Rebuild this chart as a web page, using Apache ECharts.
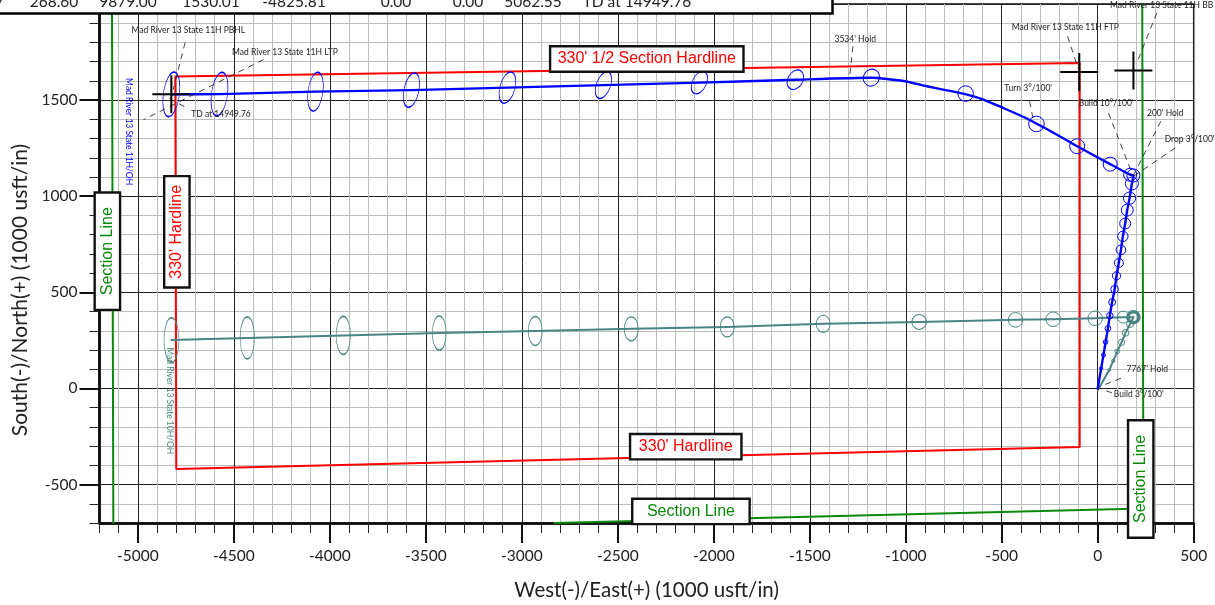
<!DOCTYPE html>
<html><head><meta charset="utf-8">
<style>html,body{margin:0;padding:0;background:#fff}#c{width:1215px;height:605px}</style>
<script src="https://cdn.jsdelivr.net/npm/echarts@6/dist/echarts.min.js"></script>
</head><body><div id="c"></div>
<script>
const xTicks=[-5000,-4500,-4000,-3500,-3000,-2500,-2000,-1500,-1000,-500,0,500];
const yTicks=[-500,0,500,1000,1500];
const xTitle='West(-)/East(+) (1000 usft/in)';
const yTitle='South(-)/North(+) (1000 usft/in)';

const tableCells=['7','268.60','9879.00','1530.01','-4825.81','0.00','0.00','5062.55','TD at 14949.76'];

const bluePath=[[0,0],[18,105],[30,174],[41,242],[53,312],[63,379],[75,449],[88,516],[98,586],[110,653],[121,721],[131,791],[143,858],[154,928],[166,990],[178,1066],[186,1108],[169,1112],[65,1167],[-107,1260],[-212,1320],[-325,1381],[-386,1412],[-492,1459],[-595,1503],[-685,1530],[-785,1551],[-890,1572],[-1003,1598],[-1098,1610],[-1176,1616],[-1575,1606],[-2075,1591],[-2575,1578],[-3075,1565],[-3575,1552],[-4075,1544],[-4575,1531],[-4825.81,1530.01]];
const blueStations=[[18,105],[30,174],[41,242],[53,312],[63,379],[75,449],[88,516],[98,586],[110,653],[121,721],[131,791],[143,858],[154,928],[166,990],[178,1066],[169,1112],[186,1108],[65,1167],[-107,1260],[-319,1376],[-688,1534],[-1179,1617],[-1575,1606],[-2075,1591],[-2575,1578],[-3075,1565],[-3575,1552],[-4075,1544],[-4575,1531],[-4825.81,1530.01]];
const blueMinor=[17,21,24,30,33,36,40,43,47,50,54,57,62,64,68,68,68,73,78,81,81,83,78,73,73,78,78,78,83,83];
const blueMajor=[17,21,24,30,33,36,40,43,47,50,54,57,62,64,68,68,68,73,78,81,81,90,109,125,146,167,182,203,229,234];
const blueTilt=[0,0,0,0,0,0,0,0,0,0,0,0,0,0,0,0,0,0,0,0,0,30,30,25,20,15,12,8,8,8];

const tealBuild=[[0,-10],[60,96],[81,143],[102,192],[124,240],[145,289],[169,336],[186,371]];
const tealLateral=[[186,371],[133,371],[-13,365],[-232,360],[-428,357],[-930,346],[-1430,336],[-1930,320],[-2430,310],[-2930,299],[-3430,288],[-3930,276],[-4430,263],[-4825,252]];
const tealStations=[[60,96],[81,143],[102,192],[124,240],[145,289],[169,336],[133,371],[-13,365],[-232,360],[-428,357],[-930,346],[-1430,336],[-1930,320],[-2430,310],[-2930,299],[-3430,288],[-3930,276],[-4430,263],[-4825,252]];
const tealMinor=[14,17,24,33,35,38,62,76,76,76,76,73,73,73,73,73,75,75,78];
const tealMajor=[14,17,24,33,35,38,62,76,76,76,78,89,104,125,151,177,198,219,234];
const tealEndRing=[[186,371]];

const hardline=[[-4805,1623],[-94,1693],[-94,-305],[-4800,-419],[-4805,1623]];
const sectionWest=[[-5135,2000],[-5128,-700]];
const sectionEast=[[232,2000],[238,-625],[-2830,-700]];
const targets=[[-4825.81,1530.01],[-96,1646],[186,1654]];

const leaders=[[[-4754,1799],[-4816,1555]],[[-4346,1711],[-4971,1398]],[[-4758,1466],[-4862,1523]],[[-1275,1780],[-1293,1616]],[[-157,1832],[-100,1659]],[[308,1954],[204,1694]],[[-355,1494],[-334,1390]],[[56,1433],[178,1121]],[[329,1390],[183,1103]],[[404,1251],[186,1103]],[[121,53],[9,9]],[[74,-23],[3,3]]];
const noteTexts=['Mad River 13 State 11H PBHL','Mad River 13 State 11H LTP','TD at 14949.76',"3534' Hold",'Mad River 13 State 11H FTP','Mad River 13 State 11H BB',"Turn 3\u00b0/100'","Build 10\u00b0/100'","200' Hold","Drop 3\u00b0/100'","7767' Hold","Build 3\u00b0/100'"];
const notePoints=[[-4737,1864],[-4234,1749],[-4567,1424],[-1263,1815],[-169,1877],[333,1992],[-362,1560],[44,1483],[352,1431],[479,1298],[258,100],[214,-32]];
const wellNames=['Mad River 13 State 11H/OH','Mad River 13 State 10H/OH'];
const wellNamePoints=[[-5048,1336],[-4834,-64]];

const boxTexts=["330' 1/2 Section Hardline","330' Hardline",'Section Line',"330' Hardline",'Section Line','Section Line'];
const boxPoints=[[-2349,1714],[-2146,-303],[-2119,-640],[-4797,815],[-5159,714],[224,-471]];

const FONT='Lato';
const BLUE='#0000ff',TEAL='#4a8484',RED='#ff0000',GREEN='#0a8a0a',INK='#1a1a1a';
const PX_PER_USFT=0.192;
const X0=-5200,X1=500,Y0=-700,Y1=2000;
const NOBORDER={textBorderWidth:0,textBorderColor:'transparent',textShadowBlur:0,opacity:1};

function ellipses(points,minor,major,tilt,color,name){
  return {type:'scatter',name,z:4,silent:true,symbol:'circle',
    data:points.map((p,i)=>({value:p,symbolSize:[minor[i]*PX_PER_USFT,major[i]*PX_PER_USFT],symbolRotate:-tilt[i]})),
    itemStyle:{color:'rgba(0,0,0,0)',borderColor:color,borderWidth:1,opacity:1}};
}
function path(data,color,w,name,extra){
  return Object.assign({type:'line',name,data,showSymbol:false,symbol:'none',silent:true,smooth:false,z:3,
    lineStyle:{color,width:w,cap:'round',join:'round'}},extra||{});
}
const series=[
  path(hardline,RED,2,'Hardline'),
  path(sectionWest,GREEN,2,'Section line west'),
  path(sectionEast,GREEN,2,'Section line east'),
  path(tealBuild,TEAL,2,'10H build'),
  path(tealLateral,TEAL,2,'10H lateral'),
  path(bluePath,BLUE,2.4,'11H',{smooth:0.2}),
  ellipses(tealStations,tealMinor,tealMajor,tealStations.map(()=>0),TEAL,'10H stations'),
  ellipses(blueStations,blueMinor,blueMajor,blueTilt,BLUE,'11H stations'),
  {type:'scatter',name:'10H end',z:5,silent:true,data:tealEndRing,symbolSize:11,
    itemStyle:{color:'rgba(0,0,0,0)',borderColor:TEAL,borderWidth:3.5,opacity:1}},
  {type:'scatter',name:'Targets',z:5,silent:true,data:targets,symbol:'path://M0 10H20M10 0V20',symbolSize:38,
    itemStyle:{color:'rgba(0,0,0,0)',borderColor:'#000',borderWidth:2,opacity:1}},
  ...leaders.map((l,i)=>path(l,'#111',0.8,'Leader '+i,{z:6,lineStyle:{color:'#111',width:0.8,type:[6,5]}})),
  {type:'scatter',name:'Notes',z:7,silent:true,symbolSize:1,itemStyle:{color:'rgba(0,0,0,0)',opacity:1},
    data:notePoints.map((p,i)=>({value:p,label:Object.assign({show:true,position:'inside',formatter:noteTexts[i],align:'center',verticalAlign:'middle',
      fontFamily:FONT,fontSize:8.5,color:'#222'},NOBORDER)}))},
  {type:'scatter',name:'Well names',z:7,silent:true,symbolSize:1,itemStyle:{color:'rgba(0,0,0,0)',opacity:1},
    data:wellNamePoints.map((p,i)=>({value:p,label:Object.assign({show:true,position:'inside',rotate:-90,formatter:wellNames[i],align:'center',verticalAlign:'middle',
      fontFamily:FONT,fontSize:8.5,color:i?TEAL:BLUE},NOBORDER)}))},
  {type:'scatter',name:'Boxes',z:10,silent:true,symbolSize:1,itemStyle:{color:'rgba(0,0,0,0)',opacity:1},
    data:boxPoints.map((p,i)=>{
      const vertical=i>=3, section=/Section Line/.test(boxTexts[i]);
      const long=i===0?191:(section?115:109);
      return {value:p,label:Object.assign({show:true,position:'inside',rotate:vertical?90:0,formatter:boxTexts[i],align:'center',verticalAlign:'middle',
        width:long,height:23,lineHeight:23,fontFamily:'Liberation Sans',fontSize:16,color:section?GREEN:RED,
        backgroundColor:'#fff',borderColor:'#111',borderWidth:2.4,padding:0,shadowBlur:0},NOBORDER)};
    })}
];
const labelStyle={fontFamily:FONT,fontSize:15.5,color:'#222'};
const grid={left:99.5,top:4,width:1094.2,height:519,show:true,backgroundColor:'#fff',borderColor:'#111',borderWidth:1.5,containLabel:false,outerBoundsMode:'none'};
function minorAxis(min,max,pos){
  return {type:'value',min,max,interval:100,position:pos,silent:true,
    axisLine:{show:true,onZero:false,lineStyle:{color:'#111',width:2.5}},
    axisTick:{show:true,length:10,lineStyle:{color:'#222',width:1}},
    axisLabel:{show:false},
    splitLine:{show:true,lineStyle:{width:1,color:['#b8c0bc','#b8c0bc','#222','#b8c0bc','#b8c0bc']}},
    minorTick:{show:false},minorSplitLine:{show:false}};
}
function majorAxis(min,max,pos,ticks,margin){
  return {type:'value',min,max,interval:100,position:pos,silent:true,
    axisLine:{show:true,onZero:false,lineStyle:{color:'#111',width:2.5}},
    axisTick:{show:true,length:20,customValues:ticks,lineStyle:{color:'#111',width:2}},
    axisLabel:Object.assign({show:true,margin,customValues:ticks,formatter:v=>String(v)},labelStyle),
    splitLine:{show:false}};
}
const option={animation:false,backgroundColor:'#fff',grid,
  xAxis:[minorAxis(X0,X1,'bottom'),Object.assign(majorAxis(X0,X1,'bottom',xTicks,25),{name:xTitle,nameLocation:'middle',nameGap:57,nameTextStyle:{fontFamily:FONT,fontSize:20.5,color:'#222'}})],
  yAxis:[minorAxis(Y0,Y1,'left'),Object.assign(majorAxis(Y0,Y1,'left',yTicks,22),{name:yTitle,nameLocation:'middle',nameGap:68,nameTextStyle:{fontFamily:FONT,fontSize:21,color:'#222',padding:[0,53,0,0]}})],
  series,
  graphic:[{type:'rect',z:50,silent:true,shape:{x:-5,y:-5,width:837.5,height:18.5},style:{fill:'#fff',stroke:'#000',lineWidth:2.5}},
    ...tableCells.map((t,i)=>({type:'text',z:51,silent:true,x:[4,54,128,211,294,396,468,533,637][i],y:9.5,
      style:{text:t,fontFamily:FONT,fontSize:15.5,fill:'#222',align:i===0?'right':'center',verticalAlign:'bottom'}}))]
};
echarts.init(document.getElementById('c'),null,{renderer:'canvas'}).setOption(option);
</script></body></html>
